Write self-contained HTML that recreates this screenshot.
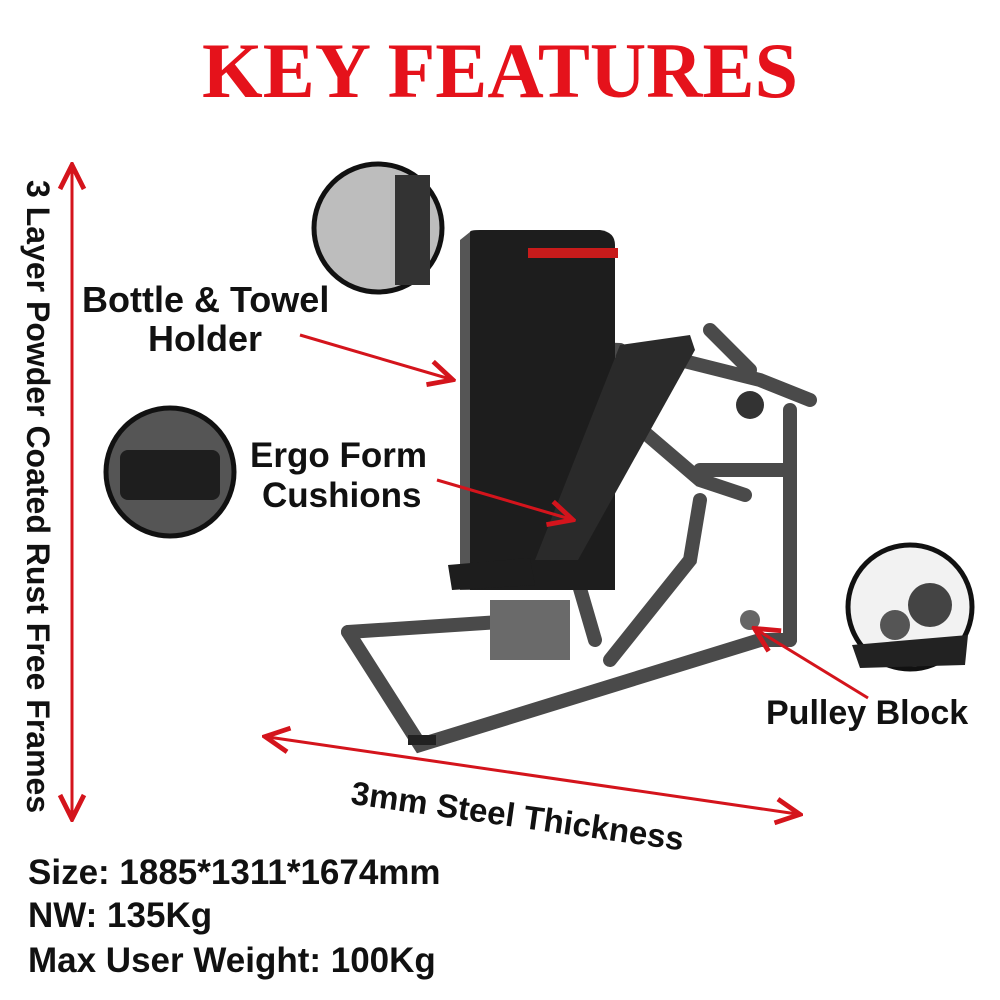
<!DOCTYPE html>
<html><head><meta charset="utf-8"><style>
html,body{margin:0;padding:0;background:#fff;}
body{width:1000px;height:1000px;position:relative;overflow:hidden;font-family:"Liberation Sans",sans-serif;}
.t{position:absolute;font-weight:bold;color:#111;white-space:nowrap;}
</style></head><body>
<div class="t" style="left:0;width:1000px;text-align:center;top:26px;font-family:'Liberation Serif',serif;font-size:78px;color:#e5121b;">KEY FEATURES</div>

<svg width="1000" height="1000" style="position:absolute;left:0;top:0">
<defs><marker id="a" markerWidth="10" markerHeight="10" refX="8" refY="5" orient="auto-start-reverse"><path d="M1,1 L9,5 L1,9" fill="none" stroke="#d4141c" stroke-width="1.6"/></marker></defs>
<!-- machine -->
<g stroke="#4a4a4a" stroke-width="14" fill="none" stroke-linecap="round">
<path d="M348 632 L420 745 L760 640 L790 640"/>
<path d="M348 632 L500 622"/>
<path d="M610 660 L690 560 L700 500"/>
<path d="M595 640 L560 520"/>
<path d="M630 420 L700 480 L745 495"/>
<path d="M790 410 L790 640"/>
<path d="M700 470 L790 470"/>
<path d="M640 350 L760 380 L810 400"/>
<path d="M710 330 L750 370"/>
<path d="M480 345 L620 350"/>
</g>
<path d="M470 232 Q470 230 480 230 L600 230 Q615 232 615 245 L615 590 L470 590 Z" fill="#1d1d1d"/>
<rect x="528" y="248" width="90" height="10" fill="#c81b1b"/>
<path d="M470 232 L460 240 L460 590 L470 590 Z" fill="#555"/>
<path d="M620 345 L690 335 L695 350 L578 560 L535 560 Z" fill="#2a2a2a"/>
<path d="M448 565 L530 558 L535 585 L452 590 Z" fill="#1d1d1d"/>
<rect x="490" y="600" width="80" height="60" fill="#6a6a6a"/>
<circle cx="750" cy="620" r="10" fill="#666"/>
<circle cx="750" cy="405" r="14" fill="#333"/>
<rect x="408" y="735" width="28" height="10" fill="#222"/>
<g stroke="#d4141c" stroke-width="3" fill="none">
<line x1="72" y1="168" x2="72" y2="816" marker-start="url(#a)" marker-end="url(#a)"/>
<line x1="268" y1="737" x2="797" y2="814" marker-start="url(#a)" marker-end="url(#a)"/>
<line x1="300" y1="335" x2="450" y2="379" marker-end="url(#a)"/>
<line x1="437" y1="480" x2="570" y2="519" marker-end="url(#a)"/>
<line x1="868" y1="698" x2="757" y2="630" marker-end="url(#a)"/>
</g>
<!-- circles -->
<g stroke="#111" stroke-width="5">
<circle cx="378" cy="228" r="64" fill="#bdbdbd"/>
<circle cx="170" cy="472" r="64" fill="#555"/>
<circle cx="910" cy="607" r="62" fill="#f2f2f2"/>
</g>
<rect x="395" y="175" width="35" height="110" fill="#333"/>
<rect x="120" y="450" width="100" height="50" rx="8" fill="#1e1e1e"/>
<path d="M852 645 L968 635 L965 665 L860 668 Z" fill="#222"/>
<circle cx="930" cy="605" r="22" fill="#444"/>
<circle cx="895" cy="625" r="15" fill="#555"/>
</svg>

<div class="t" style="left:82px;top:279px;font-size:36px;">Bottle &amp; Towel</div>
<div class="t" style="left:148px;top:318px;font-size:36px;">Holder</div>
<div class="t" style="left:250px;top:436px;font-size:35px;">Ergo Form</div>
<div class="t" style="left:262px;top:476px;font-size:35px;">Cushions</div>
<div class="t" style="left:766px;top:694px;font-size:34px;">Pulley Block</div>
<div class="t" style="left:354px;top:774px;font-size:33px;transform:rotate(8deg);transform-origin:0 0;">3mm Steel Thickness</div>
<div class="t" style="left:56px;top:180px;font-size:32px;transform:rotate(90deg);transform-origin:0 0;">3 Layer Powder Coated Rust Free Frames</div>
<div class="t" style="left:28px;top:853px;font-size:35px;">Size: 1885*1311*1674mm</div>
<div class="t" style="left:28px;top:896px;font-size:35px;">NW: 135Kg</div>
<div class="t" style="left:28px;top:941px;font-size:35px;">Max User Weight: 100Kg</div>
</body></html>
